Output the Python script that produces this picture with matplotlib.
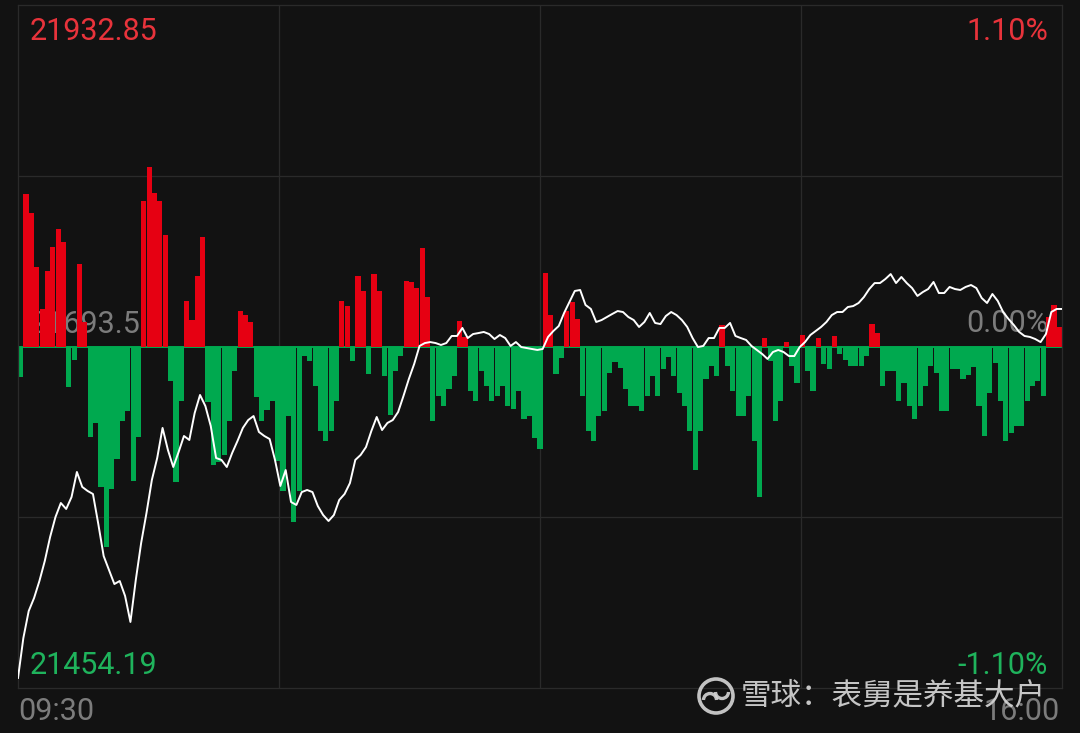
import numpy as np
import matplotlib.pyplot as plt
from matplotlib.patches import Circle, Arc

# previous close and the day's extremes shown in the corners
prev_close = 21693.5
top_label = "21932.85"
bottom_label = "21454.19"
top_pct = "1.10%"
bottom_pct = "-1.10%"
mid_label = "21693.5"
mid_pct = "0.00%"
time_labels = ["09:30", "16:00"]

# index price, one point every 2 minutes from 09:30 to 16:00
minutes = np.arange(0, 391, 2)
price = [
    21454.19, 21483.0, 21502.5, 21511.9, 21524.2, 21538.6, 21556.0, 21570.4, 21580.5, 21576.2,
    21584.8, 21602.9, 21592.1, 21589.2, 21587.0, 21565.3, 21542.2, 21532.1, 21522.0, 21524.2,
    21513.4, 21494.6, 21524.9, 21551.6, 21573.3, 21597.1, 21613.0, 21634.7, 21618.8, 21606.5,
    21617.3, 21628.9, 21626.0, 21645.5, 21658.5, 21650.5, 21636.1, 21613.0, 21611.6, 21606.5,
    21616.6, 21625.3, 21634.7, 21640.4, 21643.3, 21631.8, 21628.9, 21626.7, 21611.6, 21592.8,
    21604.3, 21581.2, 21579.1, 21588.4, 21589.9, 21588.4, 21578.3, 21571.8, 21567.5, 21571.8,
    21582.7, 21587.0, 21594.9, 21611.6, 21615.2, 21620.9, 21632.5, 21642.6, 21633.2, 21638.3,
    21640.4, 21646.2, 21657.8, 21670.0, 21680.9, 21693.9, 21696.0, 21696.7, 21696.0, 21694.6,
    21696.0, 21701.1, 21701.1, 21706.9, 21699.6, 21702.5, 21703.2, 21704.0, 21702.5, 21698.9,
    21701.8, 21699.6, 21693.9, 21696.7, 21693.1, 21692.4, 21691.7, 21691.0, 21691.7, 21700.4,
    21704.7, 21708.3, 21717.7, 21725.6, 21733.6, 21734.3, 21723.5, 21720.6, 21711.2, 21712.6,
    21714.8, 21717.0, 21719.1, 21718.4, 21714.8, 21712.6, 21707.6, 21711.2, 21717.7, 21710.5,
    21709.7, 21715.5, 21718.4, 21716.2, 21712.6, 21707.6, 21699.6, 21693.1, 21693.9, 21699.6,
    21699.6, 21706.9, 21706.9, 21710.5, 21701.1, 21699.6, 21698.2, 21693.9, 21691.0, 21688.1,
    21684.5, 21689.5, 21691.0, 21689.5, 21686.6, 21686.6, 21693.1, 21696.7, 21701.8, 21704.7,
    21707.6, 21711.2, 21716.2, 21718.4, 21718.4, 21722.0, 21722.7, 21724.9, 21729.2, 21735.0,
    21739.3, 21739.3, 21742.2, 21745.8, 21739.3, 21743.7, 21739.3, 21735.7, 21730.0, 21732.8,
    21735.0, 21740.1, 21732.1, 21732.1, 21736.5, 21735.0, 21734.3, 21736.5, 21737.9, 21735.7,
    21728.5, 21724.9, 21731.4, 21726.4, 21718.4, 21713.4, 21709.0, 21704.0, 21701.1, 21700.4,
    21698.9, 21696.7, 21702.5, 21718.4, 21720.6, 21720.6,
]

# red / green bars, one per 2-minute bin
bar_minutes = np.arange(1, 390, 2)
flow = [
    -3.0, 15.3, 13.4, 8.0, 3.8, 7.6, 10.0, 11.8, 10.5, -4.0,
    -1.3, 8.3, 2.5, -9.0, -7.6, -14.0, -20.0, -14.2, -11.2, -7.4,
    -6.4, -13.4, -9.0, 14.6, 18.0, 15.4, 14.6, 11.2, -3.4, -13.5,
    -5.4, 4.6, 2.7, 7.1, 11.0, -5.5, -11.8, -11.5, -10.8, -7.4,
    -2.4, 3.6, 3.2, 2.5, -5.0, -7.4, -6.3, -5.4, -11.4, -14.4,
    -6.9, -17.5, -14.4, -0.9, -1.4, -3.9, -8.4, -9.4, -8.4, -5.4,
    4.6, 4.1, -1.4, 7.1, 5.6, -2.7, 7.3, 5.6, -2.9, -6.8,
    -2.4, -0.9, 6.6, 6.5, 5.9, 9.9, 5.0, -7.4, -4.9, -5.9,
    -4.2, -2.9, 2.6, 1.0, -4.4, -5.4, -2.4, -3.9, -5.4, -4.9,
    -3.9, -5.9, -6.2, -4.4, -7.2, -6.9, -9.1, -10.2, 7.4, 3.2,
    -2.7, -1.1, 3.6, 4.5, 2.8, -4.9, -8.4, -9.4, -6.9, -6.4,
    -2.6, -1.5, -2.1, -4.2, -5.9, -5.9, -6.4, -4.9, -2.9, -4.9,
    -2.2, -1.0, -2.9, -4.6, -5.9, -8.4, -12.3, -8.4, -3.2, -1.9,
    -2.9, 2.2, -1.9, -4.4, -6.9, -6.9, -4.9, -9.4, -15.0, 0.9,
    -1.4, -7.4, -5.4, 0.5, -1.9, -3.6, 1.2, -2.4, -4.4, 0.9,
    -1.7, -2.2, 1.1, -0.7, -1.3, -1.9, -1.9, -1.9, -0.9, 2.3,
    1.4, -3.9, -2.4, -2.4, -5.4, -3.6, -5.9, -7.2, -5.9, -3.9,
    -1.9, -2.6, -6.4, -6.4, -2.2, -2.2, -3.2, -2.8, -2.0, -5.9,
    -8.9, -4.6, -1.6, -5.4, -9.4, -8.6, -7.9, -7.9, -5.4, -3.9,
    -3.4, -4.9, 3.0, 4.2, 2.0,
]

bg = "#121212"
grid_c = "#2a2a2a"
red = "#e60012"
green = "#00a94f"
red_txt = "#e8333b"
green_txt = "#1fb35c"
grey = "#7c7c7c"
num_font = ["Roboto", "DejaVu Sans"]
cjk_font = ["Noto Sans CJK SC", "DejaVu Sans"]

W, H = 1080, 733
fig = plt.figure(figsize=(W / 100, H / 100), dpi=100, facecolor=bg)

# bars axis (also holds the grid and the grey mid labels)
ax = fig.add_axes([18 / W, 45 / H, 1044 / W, 683 / H])
ax.set_facecolor(bg)
ax.set_xlim(0, 390)
bar_lim = 34.15
ax.set_ylim(-bar_lim, bar_lim)
ax.set_xticks([97.5, 195, 292.5])
ax.set_yticks([-bar_lim / 2, bar_lim / 2])
ax.tick_params(length=0, labelbottom=False, labelleft=False)
ax.grid(True, color=grid_c, lw=0.9)
for s in ax.spines.values():
    s.set_color(grid_c)
    s.set_linewidth(0.9)

cols = [red if v > 0 else green for v in flow]
ax.bar(bar_minutes, flow, width=1.92, color=cols, linewidth=0, zorder=2)
ax.axhline(0, color=green, lw=1.4, zorder=1.9)

ax.text(30 / W, 1 - 325 / H, mid_label, transform=fig.transFigure, color=grey,
        fontsize=22, family=num_font, va="center", ha="left", zorder=1)
ax.text(1048 / W, 1 - 324 / H, mid_pct, transform=fig.transFigure, color=grey,
        fontsize=22, family=num_font, va="center", ha="right", zorder=1)

# price line on a twin axis
ax2 = ax.twinx()
dev = float(top_label) - prev_close
half = dev * 341.5 / 331.5
ax2.set_ylim(prev_close - half, prev_close + half)
ax2.set_xlim(0, 390)
ax2.plot(minutes, price, color="white", lw=1.4, zorder=3)
ax2.set_yticks([])
for s in ax2.spines.values():
    s.set_visible(False)

# overlay for corner labels and watermark, in pixel coordinates
ov = fig.add_axes([0, 0, 1, 1])
ov.set_xlim(0, W)
ov.set_ylim(H, 0)
ov.axis("off")
ov.patch.set_visible(False)

ov.text(30, 31, top_label, color=red_txt, fontsize=22, family=num_font, va="center", ha="left")
ov.text(1048, 31, top_pct, color=red_txt, fontsize=22, family=num_font, va="center", ha="right")
ov.text(30, 665, bottom_label, color=green_txt, fontsize=22, family=num_font, va="center", ha="left")
ov.text(1048, 666, bottom_pct, color=green_txt, fontsize=22, family=num_font, va="center", ha="right")
ov.text(18, 712, time_labels[0], color=grey, fontsize=22, family=num_font, va="center", ha="left")
ov.text(1060, 712, time_labels[1], color=grey, fontsize=22, family=num_font, va="center", ha="right")

# watermark
wm = "#d6d6d6"
ov.add_patch(Circle((716, 696), 17, fill=False, lw=2.6, color=wm, alpha=0.9))
ov.add_patch(Arc((710, 700), 13, 13, theta1=180, theta2=360, lw=2.4, color=wm, alpha=0.9))
ov.add_patch(Arc((722, 692), 13, 13, theta1=0, theta2=180, lw=2.4, color=wm, alpha=0.9))
ov.text(741, 696, "雪球：表舅是养基大户", color=wm, alpha=0.92, fontsize=22,
        family=cjk_font, va="center", ha="left")

fig.savefig("out.png", dpi=100, facecolor=bg)
